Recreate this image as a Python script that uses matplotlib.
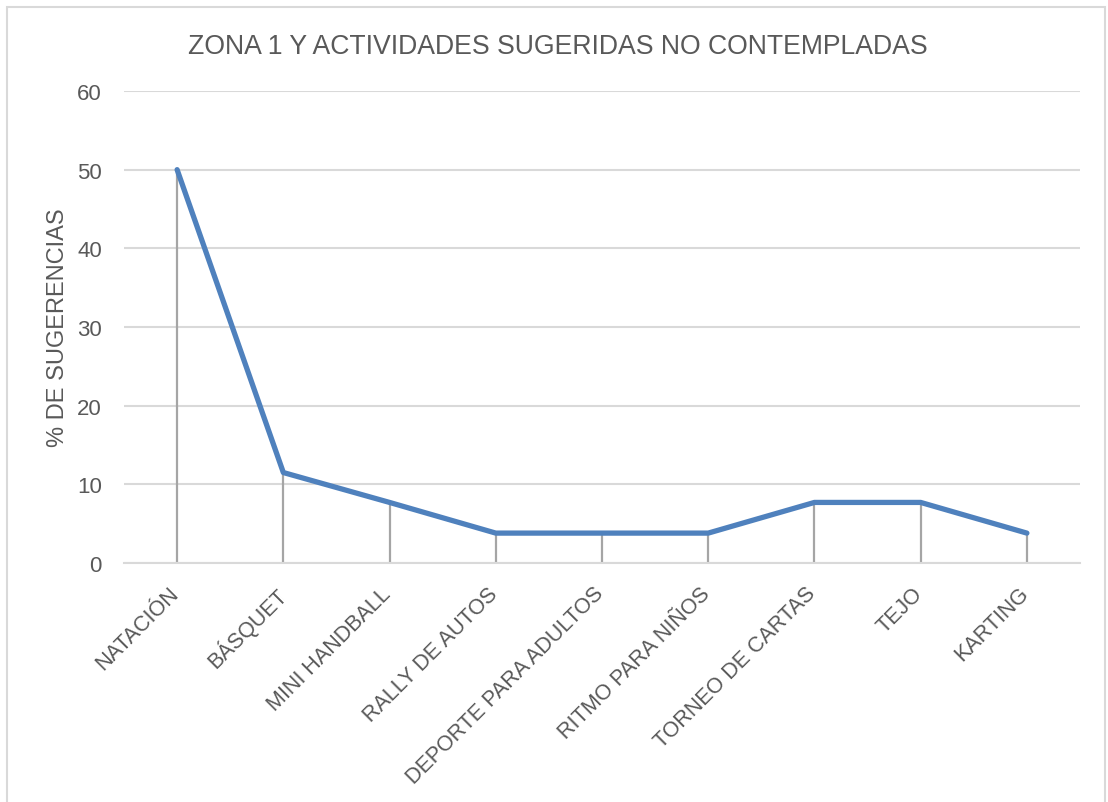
import matplotlib
matplotlib.use("Agg")
import matplotlib.pyplot as plt
from matplotlib.patches import Rectangle
from matplotlib.transforms import ScaledTranslation

plt.rcParams['font.family'] = ['Liberation Sans', 'DejaVu Sans']

categories = ["NATACIÓN", "BÁSQUET", "MINI HANDBALL", "RALLY DE AUTOS",
              "DEPORTE PARA ADULTOS", "RITMO PARA NIÑOS", "TORNEO DE CARTAS",
              "TEJO", "KARTING"]
values = [50.0, 11.5, 7.7, 3.8, 3.8, 3.8, 7.7, 7.7, 3.8]
y_ticks = [0, 10, 20, 30, 40, 50, 60]

W, H = 1108, 803
fig = plt.figure(figsize=(W / 100, H / 100), dpi=100)
fig.patch.set_facecolor("white")
fig.patches.append(Rectangle((7 / W, -0.01), (1105 - 7) / W, (H - 8) / H + 0.01,
                             transform=fig.transFigure, fill=False,
                             edgecolor="#D9D9D9", linewidth=1.5))

ax = fig.add_axes([124 / W, (H - 564) / H, (1080 - 124) / W, (564 - 92) / H])
x = list(range(len(categories)))

ax.vlines(x, 0, values, color="#A5A5A5", linewidth=1.6, zorder=2)
ax.plot(x, values, color="#4F81BD", linewidth=3.8, solid_capstyle="round",
        solid_joinstyle="round", zorder=3)

ax.set_xlim(-0.5, len(categories) - 0.5)
ax.set_ylim(0, 60)
ax.set_yticks(y_ticks)
ax.set_yticklabels([str(v) for v in y_ticks], fontsize=16, color="#595959")
ax.yaxis.grid(True, color="#D9D9D9", linewidth=1.5)
ax.set_axisbelow(True)
ax.tick_params(axis="y", length=0, pad=16)
ax.tick_params(axis="x", length=0, pad=12)

ax.set_xticks(x)
ax.set_xticklabels(categories, rotation=45, ha="right", rotation_mode="anchor",
                   fontsize=15.5, color="#595959")
shift = ScaledTranslation(-9 / 100, -3 / 100, fig.dpi_scale_trans)
for lab in ax.get_xticklabels():
    lab.set_transform(lab.get_transform() + shift)

for s in ["top", "right", "left"]:
    ax.spines[s].set_visible(False)
ax.spines["bottom"].set_color("#D9D9D9")
ax.spines["bottom"].set_linewidth(1.5)

ax.set_ylabel("% DE SUGERENCIAS", fontsize=17, color="#595959", labelpad=5.5)
fig.text(558 / W, 1 - 47 / H, "ZONA 1 Y ACTIVIDADES SUGERIDAS NO CONTEMPLADAS",
         ha="center", va="center", fontsize=19.2, color="#595959")

fig.savefig("out.png", dpi=100)
